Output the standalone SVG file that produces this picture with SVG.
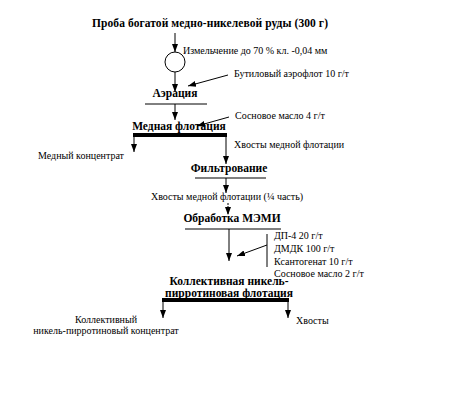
<svg xmlns="http://www.w3.org/2000/svg" width="450" height="414" viewBox="0 0 450 414">
<style>
text{font-family:"Liberation Serif","Times New Roman",serif;fill:#000}
.b{font-weight:bold;font-size:11.5px}
.t{font-size:10px}
.ln{stroke:#000;stroke-width:1;fill:none}
.bar{stroke:#000;stroke-width:4;fill:none}
</style>
<defs>
<marker id="ah" viewBox="0 0 8 8" refX="8" refY="4" markerWidth="8" markerHeight="8" markerUnits="userSpaceOnUse" orient="auto">
<path d="M0,1 L8,4 L0,7 Z" fill="#000"/>
</marker>
</defs>
<rect width="450" height="414" fill="#fff"/>
<g id="title"><text class="b" x="210" y="27" text-anchor="middle" textLength="236">Проба богатой медно-никелевой  руды (300 г)</text></g>
<g id="grinding">
<circle cx="175" cy="62" r="10" class="ln"/>
<text class="t" x="183" y="54">Измельчение до 70 % кл. -0,04 мм</text>
</g>
<g id="butyl"><text class="t" x="234" y="77">Бутиловый аэрофлот 10 г/т</text></g>
<g id="aeration">
<text class="b" x="175" y="97" text-anchor="middle">Аэрация</text>
<line class="ln" x1="145" y1="104" x2="207" y2="104"/>
</g>
<g id="pine4"><text class="t" x="235" y="119">Сосновое масло 4 г/т</text></g>
<g id="cu-flot">
<text class="b" x="179" y="130" text-anchor="middle">Медная флотация</text>
<line class="bar" x1="133" y1="135" x2="227" y2="135"/>
</g>
<g id="cu-conc"><text class="t" x="38" y="159">Медный концентрат</text></g>
<g id="cu-tails"><text class="t" x="234" y="148">Хвосты медной флотации</text></g>
<g id="filtering">
<text class="b" x="229" y="172" text-anchor="middle">Фильтрование</text>
<line class="ln" x1="195" y1="178" x2="266" y2="178"/>
</g>
<g id="tails-quarter"><text class="t" x="227" y="200" text-anchor="middle">Хвосты медной флотации (¼ часть)</text></g>
<g id="memi">
<text class="b" x="232" y="222" text-anchor="middle">Обработка МЭМИ</text>
<line class="ln" x1="185" y1="229" x2="281" y2="229"/>
</g>
<g id="reagents">
<line class="ln" x1="267" y1="234" x2="267" y2="267"/>
<text class="t" x="274" y="239">ДП-4  20 г/т</text>
<text class="t" x="274" y="252">ДМДК  100 г/т</text>
<text class="t" x="274" y="265">Ксантогенат 10 г/т</text>
<text class="t" x="274" y="277">Сосновое масло 2 г/т</text>
</g>
<g id="ni-flot">
<text class="b" x="229" y="285" text-anchor="middle">Коллективная никель-</text>
<text class="b" x="229" y="297" text-anchor="middle">пирротиновая флотация</text>
<line class="bar" x1="162" y1="300" x2="289" y2="300"/>
</g>
<g id="ni-conc">
<text class="t" x="106" y="323" text-anchor="middle">Коллективный</text>
<text class="t" x="106" y="334" text-anchor="middle">никель-пирротиновый концентрат</text>
</g>
<g id="ni-tails"><text class="t" x="296" y="324">Хвосты</text></g>
<g id="connectors">
<line class="ln" x1="175" y1="33" x2="175" y2="52" marker-end="url(#ah)"/>
<line class="ln" x1="175" y1="72" x2="175" y2="92" marker-end="url(#ah)"/>
<line class="ln" x1="228" y1="75" x2="188" y2="86" marker-end="url(#ah)"/>
<line class="ln" x1="175" y1="104" x2="175" y2="120" marker-end="url(#ah)"/>
<line class="ln" x1="229" y1="117" x2="197" y2="126" marker-end="url(#ah)"/>
<line class="ln" x1="134" y1="137" x2="134" y2="152" marker-end="url(#ah)"/>
<line class="ln" x1="226" y1="137" x2="226" y2="164" marker-end="url(#ah)"/>
<line class="ln" x1="226" y1="178" x2="226" y2="193" marker-end="url(#ah)"/>
<line class="ln" x1="228" y1="203" x2="228" y2="215" stroke-dasharray="2,1" marker-end="url(#ah)"/>
<line class="ln" x1="229" y1="229" x2="229" y2="261" marker-end="url(#ah)"/>
<line class="ln" x1="267" y1="245" x2="237" y2="256" marker-end="url(#ah)"/>
<line class="ln" x1="163" y1="302" x2="163" y2="318" marker-end="url(#ah)"/>
<line class="ln" x1="288" y1="302" x2="288" y2="318" marker-end="url(#ah)"/>
</g>
</svg>
